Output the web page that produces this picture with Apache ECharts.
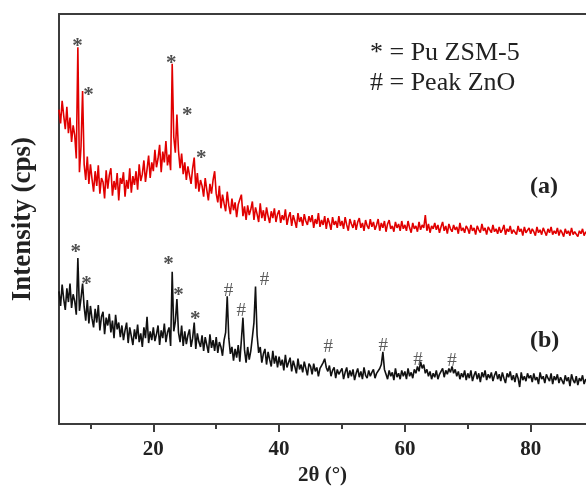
<!DOCTYPE html>
<html>
<head>
<meta charset="utf-8">
<script src="https://cdn.jsdelivr.net/npm/echarts@6/dist/echarts.min.js"></script>
<style>
  html, body { margin: 0; padding: 0; background: #fff; }
  #xrd { width: 586px; height: 491px; }
</style>
</head>
<body>
<div id="xrd"></div>
<script>
// XRD scan grid (2θ, degrees)
const scanStart = 5;
const scanStep = 0.25;

// (a) intensity, arbitrary cps, one value per step from 5° to 90°
const patternA = [
  322, 308, 331, 316, 302, 325, 298, 314, 289, 306, 296, 272, 386, 258, 284, 341, 266, 250, 274, 246,
  266, 251, 238, 259, 244, 265, 236, 252, 248, 231, 260, 241, 255, 262, 234, 249, 240, 257, 229, 252,
  246, 258, 233, 250, 241, 262, 237, 254, 245, 259, 240, 266, 249, 256, 270, 248, 261, 275, 252, 268,
  259, 281, 263, 272, 286, 258, 279, 268, 290, 265, 276, 260, 369, 294, 278, 317, 280, 262, 277, 256,
  268, 250, 264, 255, 246, 262, 273, 241, 257, 238, 250, 244, 233, 252, 240, 229, 246, 236, 250, 259,
  236, 227, 244, 221, 235, 226, 218, 238, 224, 215, 231, 219, 227, 212, 225, 230, 235, 213, 223, 209,
  224, 214, 220, 228, 209, 222, 215, 207, 226, 211, 219, 208, 222, 213, 206, 218, 211, 221, 207, 215,
  219, 206, 214, 209, 220, 204, 212, 217, 203, 214, 208, 201, 216, 207, 212, 203, 215, 208, 204, 213,
  207, 214, 201, 210, 205, 216, 202, 209, 204, 213, 200, 211, 206, 199, 212, 204, 208, 201, 213, 203,
  208, 200, 212, 204, 198, 210, 205, 201, 209, 199, 207, 211, 201, 206, 198, 209, 203, 200, 210, 202,
  207, 199, 204, 210, 198, 206, 201, 208, 197, 205, 209, 200, 203, 197, 207, 201, 205, 198, 208, 200,
  204, 198, 208, 201, 196, 206, 200, 203, 197, 207, 199, 204, 201, 214, 198, 205, 196, 203, 200, 206,
  199, 204, 196, 202, 207, 198, 203, 195, 205, 200, 197, 204, 199, 202, 195, 206, 198, 201, 196, 203,
  200, 195, 204, 198, 201, 194, 203, 199, 196, 205, 198, 201, 194, 202, 199, 196, 204, 197, 200, 195,
  202, 196, 199, 204, 194, 200, 197, 203, 195, 199, 201, 194, 203, 197, 200, 193, 202, 196, 198, 201,
  195, 200, 197, 193, 202, 196, 199, 194, 201, 197, 193, 200, 196, 202, 194, 198, 195, 201, 193, 199,
  196, 192, 200, 195, 198, 193, 201, 194, 197, 199, 192, 198, 195, 200, 193, 197, 194, 199, 192, 196,
  195
];

// (b) intensity
const patternB = [
  136, 121, 143, 128, 117, 139, 125, 144, 119, 133, 126, 112, 170, 116, 129, 144, 120, 106, 127, 103,
  121, 108, 99, 118, 104, 122, 96, 110, 115, 92, 109, 101, 113, 94, 106, 88, 112, 97, 104, 89,
  101, 86, 96, 104, 83, 99, 90, 81, 97, 87, 102, 84, 93, 79, 99, 88, 110, 83, 95, 86,
  99, 85, 92, 101, 81, 96, 88, 103, 84, 94, 99, 80, 156, 95, 105, 128, 94, 84, 101, 80,
  95, 82, 91, 97, 79, 88, 104, 77, 93, 84, 79, 91, 75, 89, 81, 73, 92, 78, 86, 75,
  89, 73, 84, 79, 70, 86, 94, 131, 88, 72, 79, 65, 77, 68, 81, 64, 86, 109, 76, 63,
  79, 66, 75, 89, 104, 141, 91, 73, 79, 63, 72, 77, 61, 74, 66, 59, 75, 62, 70, 58,
  69, 60, 66, 55, 71, 58, 63, 68, 54, 65, 59, 52, 67, 56, 61, 53, 64, 57, 50, 62,
  59, 51, 62, 54, 58, 49, 57, 60, 63, 67, 58, 54, 60, 49, 55, 58, 47, 56, 51, 54,
  57, 46, 53, 58, 47, 55, 49, 56, 45, 52, 57, 48, 54, 46, 58, 50, 47, 55, 49, 53,
  56, 47, 52, 50, 57, 61, 74, 56, 51, 46, 55, 49, 53, 45, 57, 48, 52, 46, 55, 49,
  54, 46, 57, 49, 53, 47, 56, 52, 59, 54, 64, 57, 61, 52, 56, 49, 54, 46, 52, 48,
  55, 46, 51, 49, 57, 48, 55, 51, 57, 53, 59, 52, 56, 49, 54, 46, 52, 48, 55, 45,
  52, 47, 55, 44, 50, 54, 46, 52, 43, 53, 48, 55, 45, 51, 47, 53, 44, 50, 54, 46,
  51, 44, 53, 47, 42, 52, 48, 54, 45, 50, 43, 52, 47, 38, 53, 45, 49, 44, 52, 47,
  50, 43, 52, 45, 48, 41, 53, 46, 49, 42, 51, 47, 44, 52, 41, 49, 45, 51, 42, 48,
  47, 41, 50, 44, 48, 39, 51, 45, 42, 49, 40, 47, 44, 50, 41, 46, 43, 48, 39, 45,
  44
];

// peak markers [2θ, intensity]
const zsmMarksA = [[7.94, 392], [9.68, 342], [22.86, 374], [25.4, 321], [27.6, 277]];
const zsmMarksB = [[7.67, 181], [9.37, 148], [22.43, 169], [24.0, 137], [26.67, 112]];
const znoMarksB = [[31.95, 143], [33.97, 123], [37.67, 155], [47.83, 86], [56.56, 87], [62.1, 73], [67.5, 72]];

const majorTicks = [20, 40, 60, 80];
const minorTicks = [10, 30, 50, 70];

const serif = "'Liberation Serif', 'Times New Roman', serif";
const axisColor = '#3c3c3c';

function toPairs(arr) {
    return arr.map((v, i) => [scanStart + i * scanStep, v]);
}

const chart = echarts.init(document.getElementById('xrd'));
chart.setOption({
    animation: false,
    backgroundColor: '#fff',
    grid: { left: 59, right: 0, top: 14, bottom: 57 },
    xAxis: [
        {
            type: 'value',
            min: 5,
            max: 88.8,   // picture is cropped on the right
            name: '2θ (°)',
            nameLocation: 'middle',
            nameGap: 36,
            nameTextStyle: { fontFamily: serif, fontWeight: 'bold', fontSize: 21, color: '#222' },
            axisLine: { show: true, lineStyle: { color: axisColor, width: 2 } },
            axisTick: { show: true, length: 8, lineStyle: { color: axisColor, width: 2 }, customValues: majorTicks },
            axisLabel: { fontFamily: serif, fontWeight: 'bold', fontSize: 21, color: '#222', margin: 15, customValues: majorTicks },
            splitLine: { show: false }
        },
        {
            type: 'value',
            min: 5,
            max: 88.8,
            position: 'bottom',
            axisLine: { show: false },
            axisTick: { show: true, length: 5, lineStyle: { color: axisColor, width: 2 }, customValues: minorTicks },
            axisLabel: { show: false },
            splitLine: { show: false }
        },
        {
            type: 'value',
            min: 5,
            max: 88.8,
            position: 'top',
            axisLine: { show: true, lineStyle: { color: axisColor, width: 2 } },
            axisTick: { show: false },
            axisLabel: { show: false },
            splitLine: { show: false }
        }
    ],
    yAxis: {
        type: 'value',
        min: 0,
        max: 420,
        name: 'Intensity (cps)',
        nameLocation: 'middle',
        nameGap: 22,
        nameTextStyle: { fontFamily: serif, fontWeight: 'bold', fontSize: 27, color: '#222' },
        axisLine: { show: true, lineStyle: { color: axisColor, width: 2 } },
        axisTick: { show: false },
        axisLabel: { show: false },
        splitLine: { show: false }
    },
    graphic: [
        { type: 'text', left: 370, top: 40, style: { text: '* = Pu ZSM-5', font: '26px ' + serif, fill: '#222' } },
        { type: 'text', left: 370, top: 70, style: { text: '# = Peak ZnO', font: '26px ' + serif, fill: '#222' } },
        { type: 'text', left: 530, top: 175, style: { text: '(a)', font: 'bold 24px ' + serif, fill: '#222' } },
        { type: 'text', left: 530, top: 329, style: { text: '(b)', font: 'bold 24px ' + serif, fill: '#222' } }
    ],
    series: [
        {
            name: '(a)',
            type: 'line',
            data: toPairs(patternA),
            symbol: 'none',
            lineStyle: { color: '#e10000', width: 1.6 },
            z: 3
        },
        {
            name: '(b)',
            type: 'line',
            data: toPairs(patternB),
            symbol: 'none',
            lineStyle: { color: '#111', width: 1.6 },
            z: 3
        },
        {
            type: 'scatter',
            data: zsmMarksA.concat(zsmMarksB),
            symbolSize: 0,
            label: {
                show: true, position: 'inside', formatter: '*', offset: [0, 5],
                fontFamily: serif, fontWeight: 'bold', fontSize: 21, color: '#222'
            },
            z: 4
        },
        {
            type: 'scatter',
            data: znoMarksB,
            symbolSize: 0,
            label: {
                show: true, position: 'inside', formatter: '#', offset: [0, 7],
                fontFamily: serif, fontSize: 19, color: '#333'
            },
            z: 4
        }
    ]
});
</script>
</body>
</html>
